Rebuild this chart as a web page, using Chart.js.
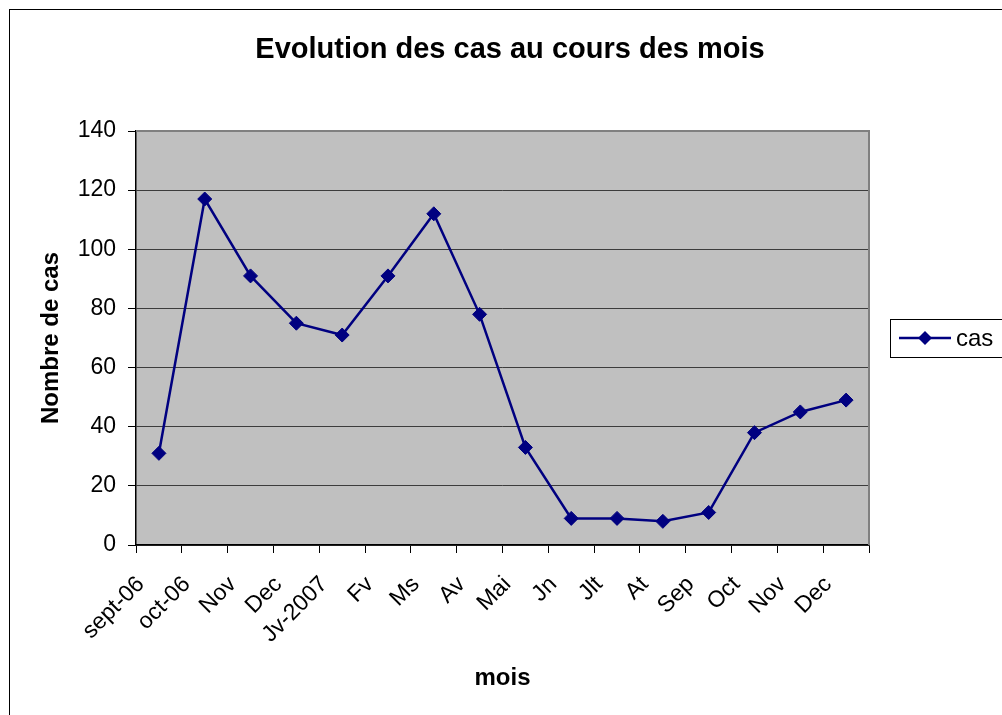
<!DOCTYPE html>
<html><head><meta charset="utf-8">
<script src="https://cdn.jsdelivr.net/npm/chart.js@4/dist/chart.umd.min.js"></script>
<style>html,body{margin:0;padding:0;background:#fff;overflow:hidden}</style>
</head><body>
<canvas id="c" width="1002" height="715"></canvas>
<script>
const categories = ['sept-06','oct-06','Nov','Dec','Jv-2007','Fv','Ms','Av','Mai','Jn','Jlt','At','Sep','Oct','Nov','Dec'];
const casValues = [31,117,91,75,71,91,112,78,33,9,9,8,11,38,45,49];
const yMin = 0, yMax = 140, yStep = 20;
const titleText = 'Evolution des cas au cours des mois';
const yTitle = 'Nombre de cas';
const xTitle = 'mois';
const seriesName = 'cas';

const FONT = "'Liberation Sans', Arial, sans-serif";
const NAVY = '#000080';

const decor = {
  id: 'decor',
  beforeDraw(chart) {
    const {ctx, chartArea: a} = chart;
    ctx.save();
    ctx.fillStyle = '#fff';
    ctx.fillRect(0, 0, chart.width, chart.height);
    ctx.strokeStyle = '#000';
    ctx.lineWidth = 1;
    ctx.strokeRect(9.5, 9.5, 1200, 1000);
    ctx.fillStyle = '#C0C0C0';
    ctx.fillRect(a.left, a.top, a.right - a.left, a.bottom - a.top);
    ctx.restore();
  },
  afterDraw(chart) {
    const {ctx, chartArea: a} = chart;
    ctx.save();
    ctx.strokeStyle = '#808080';
    ctx.lineWidth = 2;
    ctx.beginPath();
    ctx.moveTo(a.left, a.top);
    ctx.lineTo(a.right, a.top);
    ctx.lineTo(a.right, a.bottom);
    ctx.stroke();
    ctx.fillStyle = '#000';
    ctx.font = 'bold 29px ' + FONT;
    ctx.textAlign = 'center';
    ctx.textBaseline = 'alphabetic';
    ctx.fillText(titleText, 510, 58);
    ctx.strokeStyle = '#000';
    ctx.lineWidth = 1;
    ctx.strokeRect(890.5, 319.5, 200, 38);
    ctx.strokeStyle = NAVY;
    ctx.lineWidth = 2.5;
    ctx.beginPath();
    ctx.moveTo(899, 338);
    ctx.lineTo(951, 338);
    ctx.stroke();
    ctx.fillStyle = NAVY;
    ctx.beginPath();
    ctx.moveTo(925 - 7, 338);
    ctx.lineTo(925, 338 - 7);
    ctx.lineTo(925 + 7, 338);
    ctx.lineTo(925, 338 + 7);
    ctx.closePath();
    ctx.fill();
    ctx.fillStyle = '#000';
    ctx.font = '24px ' + FONT;
    ctx.textAlign = 'left';
    ctx.textBaseline = 'middle';
    ctx.fillText(seriesName, 956, 339);
    ctx.restore();
  }
};

new Chart(document.getElementById('c'), {
  type: 'line',
  data: {
    labels: categories,
    datasets: [{
      label: seriesName,
      data: casValues,
      borderColor: NAVY,
      backgroundColor: NAVY,
      borderWidth: 2.5,
      pointStyle: 'rectRot',
      pointRadius: 7,
      pointBorderWidth: 1,
      tension: 0,
      fill: false
    }]
  },
  options: {
    responsive: false,
    animation: false,
    layout: { padding: { top: 131, right: 133, left: 0, bottom: 0 } },
    plugins: { legend: { display: false }, title: { display: false }, tooltip: { enabled: false } },
    scales: {
      x: {
        offset: true,
        grid: { offset: true, drawOnChartArea: false, drawTicks: true, tickLength: 8, color: '#000', tickColor: '#000' },
        border: { display: true, color: '#000', width: 1.5 },
        ticks: { color: '#000', font: { family: FONT, size: 23 }, minRotation: 45, maxRotation: 45, autoSkip: false, padding: 18, labelOffset: -18 },
        title: { display: true, text: xTitle, color: '#000', font: { family: FONT, size: 24, weight: 'bold' }, padding: { top: 0, bottom: 22 } },
        afterFit(s) { s.height = 170; }
      },
      y: {
        min: yMin, max: yMax,
        grid: { color: '#3c3c3c', lineWidth: 1, tickLength: 8, tickColor: '#000' },
        border: { display: true, color: '#000', width: 1.5 },
        ticks: { stepSize: yStep, color: '#000', font: { family: FONT, size: 23 }, padding: 12 },
        title: { display: true, text: yTitle, color: '#000', font: { family: FONT, size: 24, weight: 'bold' }, padding: { top: 37, bottom: 0 } },
        afterFit(s) { s.width = 136; }
      }
    }
  },
  plugins: [decor]
});
</script>
</body></html>
